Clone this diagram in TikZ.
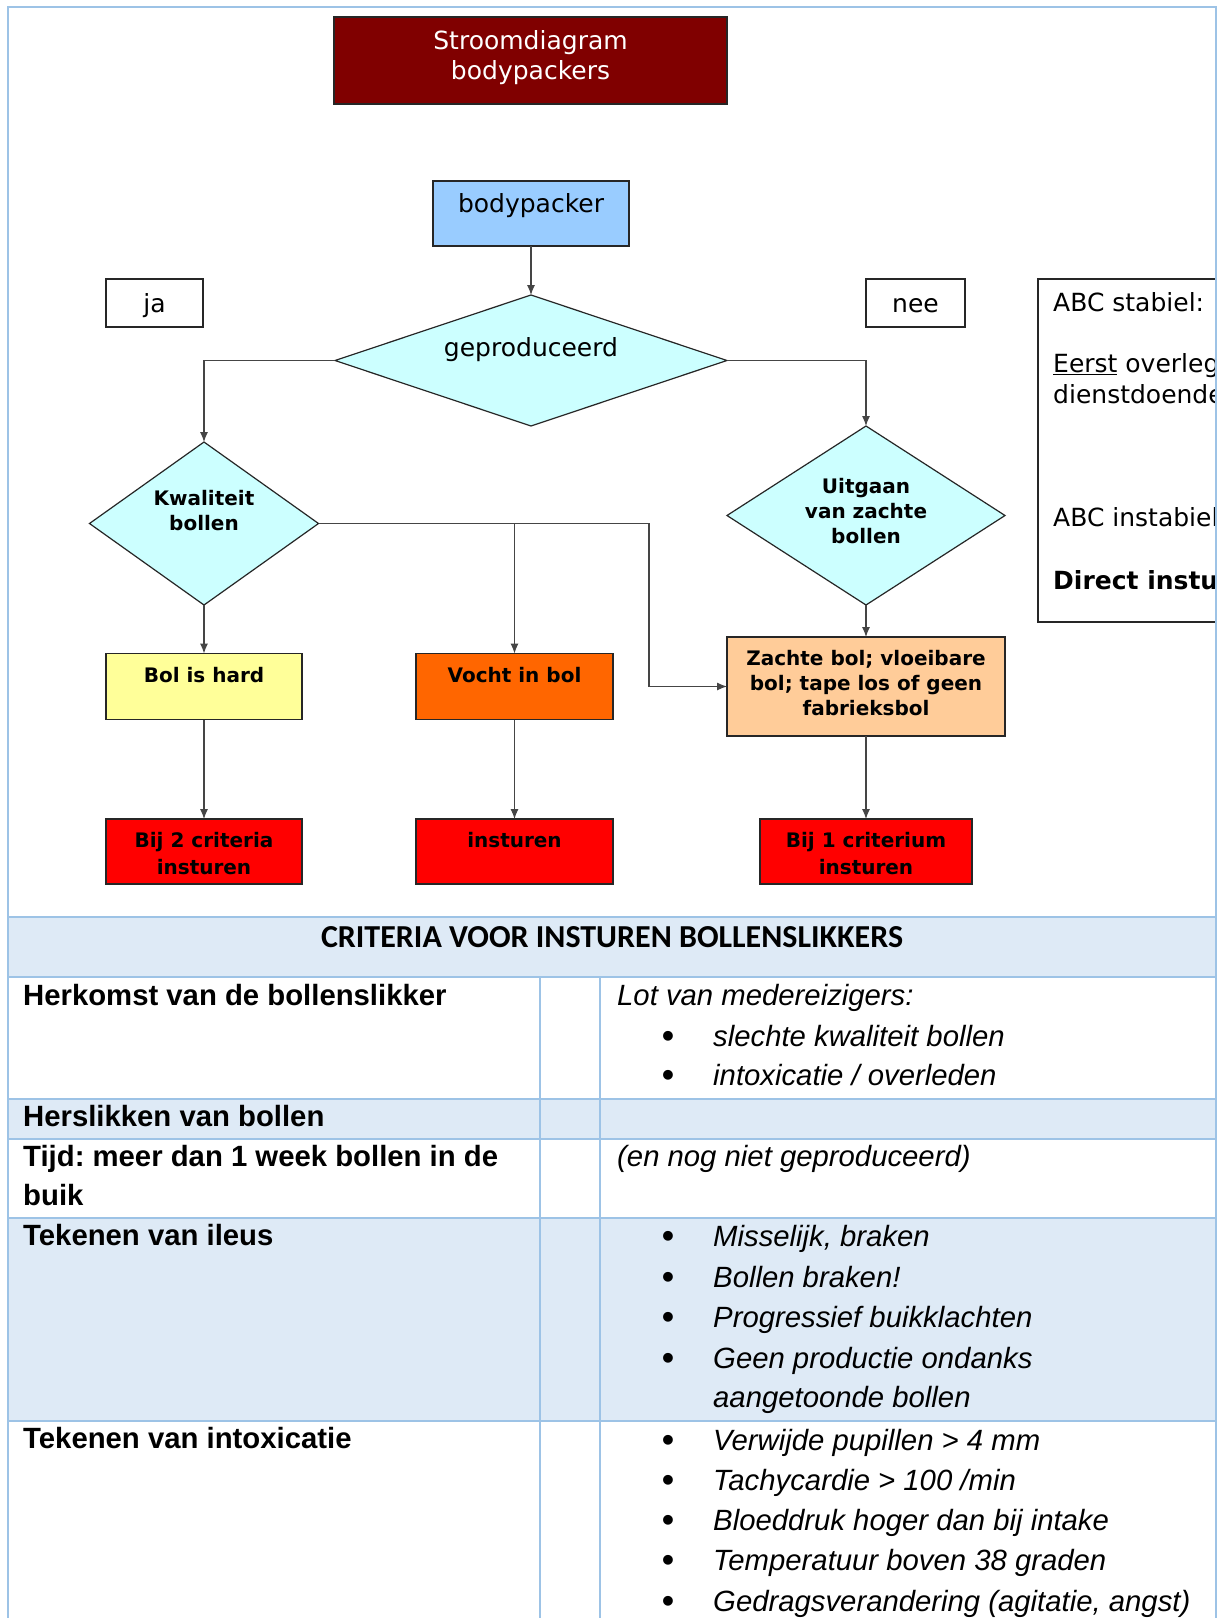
\documentclass[tikz,border=0pt]{standalone}
\usepackage{fontspec}
\setmainfont{DejaVu Sans}
\newfontfamily\arialf{Liberation Sans}
\newfontfamily\calf{Carlito}
\usetikzlibrary{shapes.geometric,arrows.meta}
\frenchspacing
\definecolor{maroonc}{HTML}{800000}
\definecolor{bpblue}{HTML}{99CCFF}
\definecolor{dcyan}{HTML}{CCFFFF}
\definecolor{lyellow}{HTML}{FFFF99}
\definecolor{orng}{HTML}{FF6600}
\definecolor{peach}{HTML}{FFCC99}
\definecolor{redc}{HTML}{FF0000}
\definecolor{tblue}{HTML}{DEEAF6}
\definecolor{tlinec}{HTML}{9DC3E6}
\definecolor{edgec}{HTML}{454545}
\newcommand\fcreg{\fontsize{25}{30}\selectfont}
\newcommand\fcbold{\fontsize{20}{24}\selectfont\bfseries}
\newcommand\tblb{\arialf\fontsize{29.3}{34}\selectfont\bfseries}
\newcommand\tbli{\arialf\fontsize{29.3}{34}\selectfont\itshape}
\newcommand\tblr{\arialf\fontsize{34}{40}\selectfont\bfseries}
\newcommand\hdrf{\calf\fontsize{32}{38}\selectfont\bfseries}
\tikzset{
  fbox/.style={draw=black!85, line width=1.2pt, inner sep=0pt, outer sep=0pt},
  dia/.style={diamond, draw=black!85, line width=1.2pt, fill=dcyan, inner sep=0pt, outer sep=0pt},
  arr/.style={draw=edgec, line width=1.1pt, -{Latex[length=10pt,width=8pt]}},
  ln/.style={draw=edgec, line width=1.1pt},
  reg/.style={font=\fcreg, inner sep=0pt, anchor=base},
  regw/.style={font=\fcreg, inner sep=0pt, anchor=base west},
  bld/.style={font=\fcbold, inner sep=0pt, anchor=base},
  tb/.style={font=\tblb, inner sep=0pt, anchor=base west},
  ti/.style={font=\tbli, inner sep=0pt, anchor=base west},
  bul/.style={font=\tblr, inner sep=0pt, anchor=base},
  tline/.style={draw=tlinec, line width=2pt},
}
\begin{document}
\begin{tikzpicture}[x=1pt,y=-1pt]
\useasboundingbox (0,0) rectangle (1217,1618);
\fill[white] (0,0) rectangle (1217,1618);

% ---------- flowchart ----------
\node[fbox, fill=maroonc, minimum width=393, minimum height=87] (title) at (530.5,60.5) {};
\node[reg, text=white] (title1) at (530.5,49) {Stroomdiagram};
\node[reg, text=white] (title2) at (530.5,79) {bodypackers};

\node[fbox, fill=bpblue, minimum width=196, minimum height=65] (bp) at (531,213.5) {};
\node[reg] (bpt) at (531,212) {bodypacker};

\node[fbox, fill=white, minimum width=97, minimum height=48] (ja) at (154.5,303) {};
\node[reg] (jat) at (154.5,312) {ja};
\node[fbox, fill=white, minimum width=99, minimum height=48] (nee) at (915.5,303) {};
\node[reg] (neet) at (915.5,312) {nee};

\node[dia, minimum width=392, minimum height=131] (gep) at (531,360.5) {};
\node[reg] (gept) at (531,356) {geproduceerd};

\node[dia, minimum width=229, minimum height=163] (kw) at (204,523.5) {};
\node[bld] (kwt1) at (204,505) {Kwaliteit};
\node[bld] (kwt2) at (204,530) {bollen};

\node[dia, minimum width=278, minimum height=179] (uit) at (866,515.5) {};
\node[bld] (uit1) at (866,493) {Uitgaan};
\node[bld] (uit2) at (866,518) {van zachte};
\node[bld] (uit3) at (866,543) {bollen};

\node[fbox, fill=lyellow, minimum width=196, minimum height=66] (bh) at (204,686.5) {};
\node[bld] (bht) at (204,682) {Bol is hard};
\node[fbox, fill=orng, minimum width=197, minimum height=66] (vo) at (514.5,686.5) {};
\node[bld] (vot) at (514.5,682) {Vocht in bol};
\node[fbox, fill=peach, minimum width=278, minimum height=99] (zb) at (866,686.5) {};
\node[bld] (zb1) at (866,665) {Zachte bol; vloeibare};
\node[bld] (zb2) at (866,690) {bol; tape los of geen};
\node[bld] (zb3) at (866,715) {fabrieksbol};

\node[fbox, fill=redc, minimum width=196, minimum height=65] (b2) at (204,851.5) {};
\node[bld] (b2a) at (204,847) {Bij 2 criteria};
\node[bld] (b2b) at (204,874) {insturen};
\node[fbox, fill=redc, minimum width=197, minimum height=65] (ins) at (514.5,851.5) {};
\node[bld] (inst) at (514.5,847) {insturen};
\node[fbox, fill=redc, minimum width=212, minimum height=65] (b1) at (866,851.5) {};
\node[bld] (b1a) at (866,847) {Bij 1 criterium};
\node[bld] (b1b) at (866,874) {insturen};

% connectors
\draw[arr] (bp.south) -- (gep.north);
\draw[arr] (gep.west) -| (kw.north);
\draw[arr] (gep.east) -| (uit.north);
\coordinate (kj) at (649,523.5);
\draw[arr] (kw.east) -- (kj) |- (zb.west);
\draw[arr] (vo.north |- kw.east) -- (vo.north);
\draw[arr] (kw.south) -- (bh.north);
\draw[arr] (uit.south) -- (zb.north);
\draw[arr] (bh.south) -- (b2.north);
\draw[arr] (vo.south) -- (ins.north);
\draw[arr] (zb.south) -- (b1.north);

% ABC box (clipped by page frame, as in the reference)
\begin{scope}
\clip (0,0) rectangle (1215,1618);
\node[fbox, fill=white, minimum width=320, minimum height=343, anchor=north west] (abc) at (1038,279) {};
\node[regw] (abc1) at (1053,311) {ABC stabiel:};
\node[regw] (abc2) at (1053,372) {\underline{Eerst} overleg};
\node[regw] (abc3) at (1053,403) {dienstdoende};
\node[regw] (abc4) at (1053,526) {ABC instabiel};
\node[regw, font=\fcreg\bfseries] (abc5) at (1053,589) {Direct instu};
\end{scope}

% ---------- table ----------
\fill[tblue] (8,917) rectangle (1216,977);
\fill[tblue] (8,1099) rectangle (1216,1139);
\fill[tblue] (8,1218) rectangle (1216,1421);

\draw[tline] (8,1618) -- (8,7) -- (1216,7) -- (1216,1618);
\foreach \yy in {917,977,1099,1139,1218,1421} \draw[tline] (8,\yy) -- (1216,\yy);
\draw[tline] (540,977) -- (540,1618);
\draw[tline] (600,977) -- (600,1618);

\node[font=\hdrf, inner sep=0pt, anchor=base] (hdr) at (612,947) {CRITERIA VOOR INSTUREN BOLLENSLIKKERS};

\node[tb] (r1) at (23,1005) {Herkomst van de bollenslikker};
\node[ti] (r1c) at (617,1005) {Lot van medereizigers:};
\node[bul] (r1b1) at (668,1047) {•};
\node[ti] (r1t1) at (713,1046) {slechte kwaliteit bollen};
\node[bul] (r1b2) at (668,1086) {•};
\node[ti] (r1t2) at (713,1085) {intoxicatie / overleden};

\node[tb] (r2) at (23,1126) {Herslikken van bollen};

\node[tb] (r3a) at (23,1166) {Tijd: meer dan 1 week bollen in de};
\node[tb] (r3b) at (23,1205) {buik};
\node[ti] (r3c) at (617,1166) {(en nog niet geproduceerd)};

\node[tb] (r4) at (23,1245) {Tekenen van ileus};
\node[bul] (r4b1) at (668,1247) {•};
\node[ti] (r4t1) at (713,1246) {Misselijk, braken};
\node[bul] (r4b2) at (668,1288) {•};
\node[ti] (r4t2) at (713,1287) {Bollen braken!};
\node[bul] (r4b3) at (668,1328) {•};
\node[ti] (r4t3) at (713,1327) {Progressief buikklachten};
\node[bul] (r4b4) at (668,1369) {•};
\node[ti] (r4t4) at (713,1368) {Geen productie ondanks};
\node[ti] (r4t5) at (713,1407) {aangetoonde bollen};

\node[tb] (r5) at (23,1448) {Tekenen van intoxicatie};
\node[bul] (r5b1) at (668,1451) {•};
\node[ti] (r5t1) at (713,1450) {Verwijde pupillen > 4 mm};
\node[bul] (r5b2) at (668,1491) {•};
\node[ti] (r5t2) at (713,1490) {Tachycardie > 100 /min};
\node[bul] (r5b3) at (668,1531) {•};
\node[ti] (r5t3) at (713,1530) {Bloeddruk hoger dan bij intake};
\node[bul] (r5b4) at (668,1571) {•};
\node[ti] (r5t4) at (713,1570) {Temperatuur boven 38 graden};
\node[bul] (r5b5) at (668,1612) {•};
\node[ti] (r5t5) at (713,1611) {Gedragsverandering (agitatie, angst)};
\end{tikzpicture}
\end{document}
